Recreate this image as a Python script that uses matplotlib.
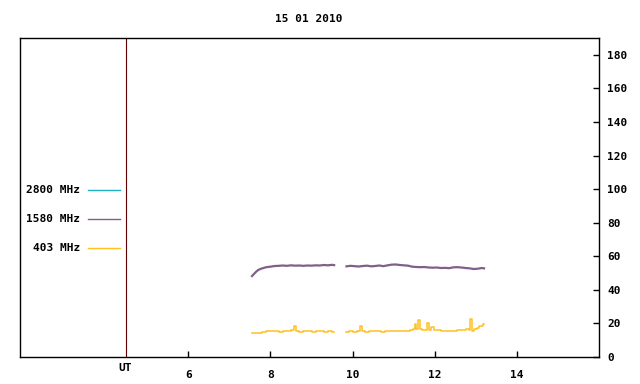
import numpy as np
import matplotlib
matplotlib.use("Agg")
import matplotlib.pyplot as plt

# ── data (UT hours, flux units) ────────────────────────────────────────────
t_1580_a = [7.55, 7.6, 7.65, 7.7, 7.75, 7.8, 7.9, 8.0, 8.1, 8.2, 8.3, 8.4,
            8.5, 8.6, 8.7, 8.8, 8.9, 9.0, 9.1, 9.2, 9.3, 9.4, 9.5, 9.55]
v_1580_a = [48.2, 49.5, 50.8, 51.8, 52.4, 52.8, 53.5, 53.8, 54.2, 54.3, 54.5, 54.3,
            54.6, 54.4, 54.5, 54.3, 54.5, 54.4, 54.6, 54.5, 54.8, 54.6, 54.9, 54.7]
t_1580_b = [9.85, 9.95, 10.05, 10.15, 10.25, 10.35, 10.45, 10.55, 10.65, 10.75,
            10.85, 10.95, 11.05, 11.15, 11.25, 11.35, 11.45, 11.55, 11.65, 11.75,
            11.85, 11.95, 12.05, 12.15, 12.25, 12.35, 12.45, 12.55, 12.65, 12.75,
            12.85, 12.95, 13.05, 13.15, 13.2]
v_1580_b = [54.0, 54.3, 54.1, 53.9, 54.2, 54.4, 54.0, 54.2, 54.5, 54.1,
            54.6, 55.0, 55.1, 54.8, 54.6, 54.4, 53.8, 53.6, 53.5, 53.6,
            53.3, 53.2, 53.3, 53.0, 53.1, 52.9, 53.4, 53.5, 53.3, 53.0,
            52.8, 52.4, 52.6, 53.0, 52.8]

t_403_a = [7.55, 7.65, 7.75, 7.85, 7.95, 8.05, 8.15, 8.25, 8.35, 8.45, 8.55,
           8.6, 8.65, 8.75, 8.85, 8.95, 9.05, 9.15, 9.25, 9.35, 9.45, 9.55]
v_403_a = [14.3, 14.4, 14.5, 15.0, 15.3, 15.6, 15.2, 14.9, 15.2, 15.6, 16.2,
           18.5, 15.4, 15.0, 15.3, 15.6, 15.1, 15.4, 15.2, 15.0, 15.3, 15.1]
t_403_b = [9.85, 9.95, 10.05, 10.15, 10.2, 10.25, 10.35, 10.45, 10.55, 10.65,
           10.75, 10.85, 10.95, 11.05, 11.15, 11.25, 11.35, 11.45, 11.5, 11.53,
           11.57, 11.62, 11.66, 11.72, 11.78, 11.84, 11.88, 11.94, 12.0, 12.1,
           12.2, 12.3, 12.4, 12.5, 12.6, 12.7, 12.8, 12.85, 12.89, 12.93,
           13.0, 13.05, 13.1, 13.15, 13.2]
v_403_b = [15.0, 15.2, 15.1, 15.4, 18.5, 15.2, 15.0, 15.3, 15.2, 15.4,
           15.1, 15.3, 15.5, 15.2, 15.6, 15.3, 15.6, 16.2, 16.4, 19.7,
           16.5, 22.1, 16.8, 16.2, 16.0, 20.5, 16.3, 17.9, 15.8, 16.2,
           15.5, 15.3, 15.2, 15.4, 15.8, 16.2, 16.5, 16.0, 22.7, 15.6,
           16.8, 17.5, 18.6, 18.2, 19.5]

labels = ["2800 MHz", "1580 MHz", "403 MHz"]
colors = ["#20b0c0", "#806088", "#ffc020"]
x_ticks = [6, 8, 10, 12, 14]
y_ticks = [0, 20, 40, 60, 80, 100, 120, 140, 160, 180]
ut_pos = 4.47

FONT = dict(family="DejaVu Sans Mono", fontweight="bold", fontsize=8)

fig = plt.figure(figsize=(6.4, 3.84), dpi=100)
ax = fig.add_axes([20 / 640, 27 / 384, 579 / 640, 319 / 384])

for t, v in [(t_1580_a, v_1580_a), (t_1580_b, v_1580_b)]:
    ax.plot(t, v, color=colors[1], lw=1.6)
for t, v in [(t_403_a, v_403_a), (t_403_b, v_403_b)]:
    ax.plot(t, v, color=colors[2], lw=1.1, drawstyle="steps-mid")

ax.axvline(ut_pos, color="#600000", lw=0.8)

ax.set_xlim(1.9, 16.0)
ax.set_ylim(0, 190)

ax.set_xticks(x_ticks)
ax.set_xticklabels([str(x) for x in x_ticks], **FONT)
ax.yaxis.tick_right()
ax.set_yticks(y_ticks)
ax.set_yticklabels([str(y) for y in y_ticks], **FONT)
ax.tick_params(axis="x", direction="in", length=4, width=1, pad=9, colors="black")
ax.tick_params(axis="y", direction="in", length=4, width=1, pad=6, colors="black")
for s in ax.spines.values():
    s.set_linewidth(1)
    s.set_color("black")

ax.text(ut_pos, -3.5, "UT", ha="center", va="top", **FONT)

# legend drawn by hand on the left strip
leg_y = [99.2, 82.4, 65.1]
for lab, col, y in zip(labels, colors, leg_y):
    ax.text(3.36, y, lab, ha="right", va="center", **FONT)
    ax.plot([3.55, 4.33], [y, y], color=col, lw=1)

fig.text(309 / 640, 1 - 19 / 384, "15 01 2010", ha="center", va="center", **FONT)

fig.savefig("out.png", dpi=100)
